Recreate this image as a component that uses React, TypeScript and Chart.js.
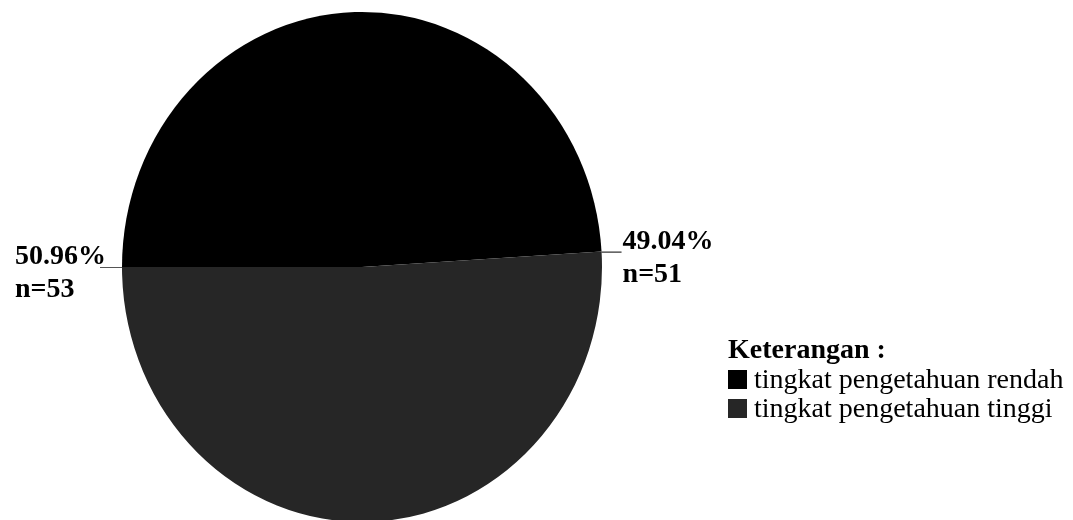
import React, { useEffect, useRef } from "react";
import { Chart, registerables } from "chart.js";

Chart.register(...registerables);

const categories = ["tingkat pengetahuan rendah", "tingkat pengetahuan tinggi"];
const counts = [51, 53];
const sliceColors = ["#000000", "#262626"];
const legendTitle = "Keterangan :";

const W = 1073;
const H = 520;
const SCALE_Y = 1.0625;
const FONT = "'Liberation Serif', 'Times New Roman', serif";

const total = counts.reduce((a, b) => a + b, 0);
const percentText = counts.map((c) => ((c / total) * 100).toFixed(2) + "%");

const ellipsePlugin = {
  id: "ellipseAndLabels",
  beforeDatasetsDraw(chart: any) {
    const meta = chart.getDatasetMeta(0);
    const arc = meta.data[0];
    if (!arc) return;
    const { x, y } = arc.getProps(["x", "y"], true);
    const ctx = chart.ctx;
    ctx.save();
    ctx.translate(x, y);
    ctx.scale(1, SCALE_Y);
    ctx.translate(-x, -y);
  },
  afterDatasetsDraw(chart: any) {
    const ctx = chart.ctx;
    ctx.restore();
    const meta = chart.getDatasetMeta(0);
    ctx.save();
    meta.data.forEach((arc: any, i: number) => {
      const p = arc.getProps(["x", "y", "endAngle", "outerRadius"], true);
      const a = p.endAngle;
      const ax = p.x + p.outerRadius * Math.cos(a);
      const ay = p.y + p.outerRadius * SCALE_Y * Math.sin(a);
      const right = Math.cos(a) >= 0;
      const leaderLen = right ? 20 : 22;
      const ex = right ? ax + leaderLen : ax - leaderLen;
      ctx.strokeStyle = right ? "#000000" : "#555555";
      ctx.lineWidth = 1;
      ctx.beginPath();
      ctx.moveTo(ax, ay + 0.5);
      ctx.lineTo(ex, ay + 0.5);
      ctx.stroke();
      ctx.font = `bold 28px ${FONT}`;
      ctx.fillStyle = "#000000";
      ctx.textAlign = "left";
      ctx.textBaseline = "alphabetic";
      const l1 = percentText[i];
      const l2 = "n=" + counts[i];
      const w = Math.max(ctx.measureText(l1).width, ctx.measureText(l2).width);
      const tx = right ? ex + 1 : ex + 6 - w;
      ctx.fillText(l1, tx, ay - 3);
      ctx.fillText(l2, tx, ay + 30);
    });

    // legend
    const lx = 728;
    ctx.font = `bold 28px ${FONT}`;
    ctx.fillStyle = "#000000";
    ctx.fillText(legendTitle, lx, 358);
    ctx.font = `28px ${FONT}`;
    categories.forEach((c, i) => {
      const by = 388 + i * 29;
      ctx.fillStyle = sliceColors[i];
      ctx.fillRect(lx, by - 18, 19, 19);
      ctx.fillStyle = "#000000";
      ctx.fillText(c, lx + 26, by);
    });
    ctx.restore();
  },
};

export default function App() {
  const ref = useRef<HTMLCanvasElement | null>(null);
  useEffect(() => {
    document.body.style.margin = "0";
    const canvas = ref.current;
    if (!canvas) return;
    const chart = new Chart(canvas, {
      type: "pie",
      data: {
        labels: categories,
        datasets: [
          {
            data: counts,
            backgroundColor: sliceColors,
            borderWidth: 0,
            hoverOffset: 0,
          },
        ],
      },
      options: {
        responsive: false,
        animation: false,
        rotation: -90,
        layout: { padding: { left: 122, right: 471, top: 27, bottom: 13 } },
        plugins: {
          legend: { display: false },
          tooltip: { enabled: false },
        },
      },
      plugins: [ellipsePlugin],
    });
    return () => chart.destroy();
  }, []);
  return (
    <div style={{ position: "absolute", left: 0, top: 0, width: W, height: H, background: "#ffffff" }}>
      <canvas ref={ref} width={W} height={H} style={{ width: W, height: H, display: "block" }} />
    </div>
  );
}
